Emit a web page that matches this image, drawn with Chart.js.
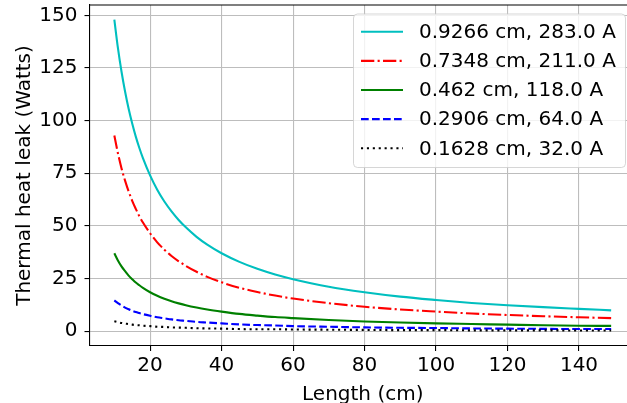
<!DOCTYPE html>
<html><head><meta charset="utf-8">
<script src="https://cdn.jsdelivr.net/npm/chart.js@4/dist/chart.umd.min.js"></script>
<style>
html,body{margin:0;padding:0;overflow:hidden;background:#fff;width:627px;height:403px}
#wrap{position:absolute;left:0;top:0;width:637px;height:403px}
</style>
</head><body><div id="wrap"><canvas id="c" width="637" height="403"></canvas></div>
<script>
// Length (cm) sample points
const lengths = [10,11,12,13,14,15,16,17,18,20,22,24,26,28,30,33,36,40,45,50,55,60,70,80,90,100,110,120,130,140,149];
// Thermal heat leak (Watts) per lead
const leak9266 = [147.9,134.5,123.3,113.8,105.6,98.6,92.4,87.0,82.2,74.0,67.2,61.6,56.9,52.8,49.3,44.8,41.1,37.0,32.9,29.6,26.9,24.7,21.1,18.5,16.4,14.8,13.4,12.3,11.4,10.6,9.9];
const leak7348 = [92.9,84.5,77.4,71.5,66.4,61.9,58.1,54.6,51.6,46.5,42.2,38.7,35.7,33.2,31.0,28.2,25.8,23.2,20.6,18.6,16.9,15.5,13.3,11.6,10.3,9.3,8.4,7.7,7.1,6.6,6.2];
const leak462 = [37.0,33.6,30.8,28.5,26.4,24.7,23.1,21.8,20.6,18.5,16.8,15.4,14.2,13.2,12.3,11.2,10.3,9.3,8.2,7.4,6.7,6.2,5.3,4.6,4.1,3.7,3.4,3.1,2.8,2.6,2.5];
const leak2906 = [14.6,13.3,12.2,11.2,10.4,9.7,9.1,8.6,8.1,7.3,6.6,6.1,5.6,5.2,4.9,4.4,4.1,3.7,3.2,2.9,2.7,2.4,2.1,1.8,1.6,1.5,1.3,1.2,1.1,1.0,1.0];
const leak1628 = [4.7,4.3,3.9,3.6,3.4,3.1,2.9,2.8,2.6,2.4,2.1,2.0,1.8,1.7,1.6,1.4,1.3,1.2,1.0,0.9,0.9,0.8,0.7,0.6,0.5,0.5,0.4,0.4,0.4,0.3,0.3];
const seriesLabels = ['0.9266 cm, 283.0 A','0.7348 cm, 211.0 A','0.462 cm, 118.0 A','0.2906 cm, 64.0 A','0.1628 cm, 32.0 A'];
const xTicks = [20,40,60,80,100,120,140];
const yTicks = [0,25,50,75,100,125,150];

const FONT = 'DejaVu Sans';
const FS = 20;
const styles = [
  {color:'#00bfbf', dash:[]},
  {color:'#ff0000', dash:[13.3,3.3,2.1,3.3]},
  {color:'#008000', dash:[]},
  {color:'#0000ff', dash:[7.7,3.3]},
  {color:'#000000', dash:[2.1,3.8]}
];
const values = [leak9266, leak7348, leak462, leak2906, leak1628];
const datasets = values.map((vals,i)=>({
  label: seriesLabels[i],
  data: lengths.map((x,j)=>({x:x, y:vals[j]})),
  borderColor: styles[i].color,
  borderDash: styles[i].dash,
  borderWidth: 2.1,
  pointRadius: 0,
  fill: false,
  cubicInterpolationMode: 'monotone',
  order: 5 - i
}));

const framePlugin = {
  id:'frame',
  afterDatasetsDraw(chart){
    const {ctx, chartArea:a} = chart;
    ctx.save();
    ctx.strokeStyle = '#000'; ctx.lineWidth = 1.1;
    ctx.beginPath(); ctx.moveTo(a.left, a.top); ctx.lineTo(a.right, a.top); ctx.stroke();
    ctx.restore();
  }
};

const legendPlugin = {
  id:'mplLegend',
  afterDraw(chart){
    const ctx = chart.ctx;
    const bx = 353.5, by = 14, bw = 272, bh = 153.5, r = 4;
    ctx.save();
    ctx.beginPath();
    ctx.moveTo(bx+r, by); ctx.lineTo(bx+bw-r, by); ctx.arcTo(bx+bw, by, bx+bw, by+r, r);
    ctx.lineTo(bx+bw, by+bh-r); ctx.arcTo(bx+bw, by+bh, bx+bw-r, by+bh, r);
    ctx.lineTo(bx+r, by+bh); ctx.arcTo(bx, by+bh, bx, by+bh-r, r);
    ctx.lineTo(bx, by+r); ctx.arcTo(bx, by, bx+r, by, r);
    ctx.closePath();
    ctx.fillStyle = 'rgba(255,255,255,0.8)'; ctx.fill();
    ctx.strokeStyle = 'rgba(204,204,204,0.8)'; ctx.lineWidth = 1; ctx.stroke();
    const rowY0 = 31.7, rowStep = 29.15;
    chart.data.datasets.forEach((ds,i)=>{
      const y = rowY0 + i*rowStep;
      ctx.beginPath();
      ctx.setLineDash(ds.borderDash || []);
      ctx.strokeStyle = ds.borderColor; ctx.lineWidth = 2.1;
      ctx.moveTo(361, y); ctx.lineTo(403, y); ctx.stroke();
      ctx.setLineDash([]);
      ctx.fillStyle = '#000';
      ctx.font = FS + 'px "' + FONT + '"';
      ctx.textBaseline = 'middle'; ctx.textAlign = 'left';
      ctx.fillText(ds.label, 419, y + 1);
    });
    ctx.restore();
  }
};

const axisCommon = (ticksArr) => ({
  type:'linear',
  grid:{color:'#bdbdbd', lineWidth:1.1, tickColor:'#000', tickLength:5, tickWidth:1.1},
  border:{color:'#000', width:1.1},
  ticks:{color:'#000', font:{family:FONT, size:FS}, maxRotation:0, autoSkip:false},
  afterBuildTicks: s => { s.ticks = ticksArr.map(v=>({value:v})); }
});

const xScale = Object.assign(axisCommon(xTicks), {
  min:3.05, max:155.95,
  afterFit: s => { s.height = 57; s.paddingLeft = 0; s.paddingRight = 0; },
  title:{display:true, text:'Length (cm)', color:'#000', font:{family:FONT, size:FS, lineHeight:0.8}, padding:0}
});
xScale.ticks.padding = 3;

const yScale = Object.assign(axisCommon(yTicks), {
  min:-7.04, max:154.9,
  afterFit: s => { s.width = 89.5; s.paddingTop = 0; s.paddingBottom = 0; },
  title:{display:true, text:'Thermal heat leak (Watts)', color:'#000', font:{family:FONT, size:FS, lineHeight:0.8}, padding:{top:16.5, bottom:0}}
});
yScale.ticks.padding = 7;

new Chart(document.getElementById('c'), {
  type:'line',
  data:{datasets:datasets},
  options:{
    responsive:false, animation:false, devicePixelRatio:1,
    layout:{padding:{top:5, right:1, left:0, bottom:0}},
    plugins:{legend:{display:false}, tooltip:{enabled:false}},
    scales:{x:xScale, y:yScale}
  },
  plugins:[framePlugin, legendPlugin]
});
</script>
</body></html>
